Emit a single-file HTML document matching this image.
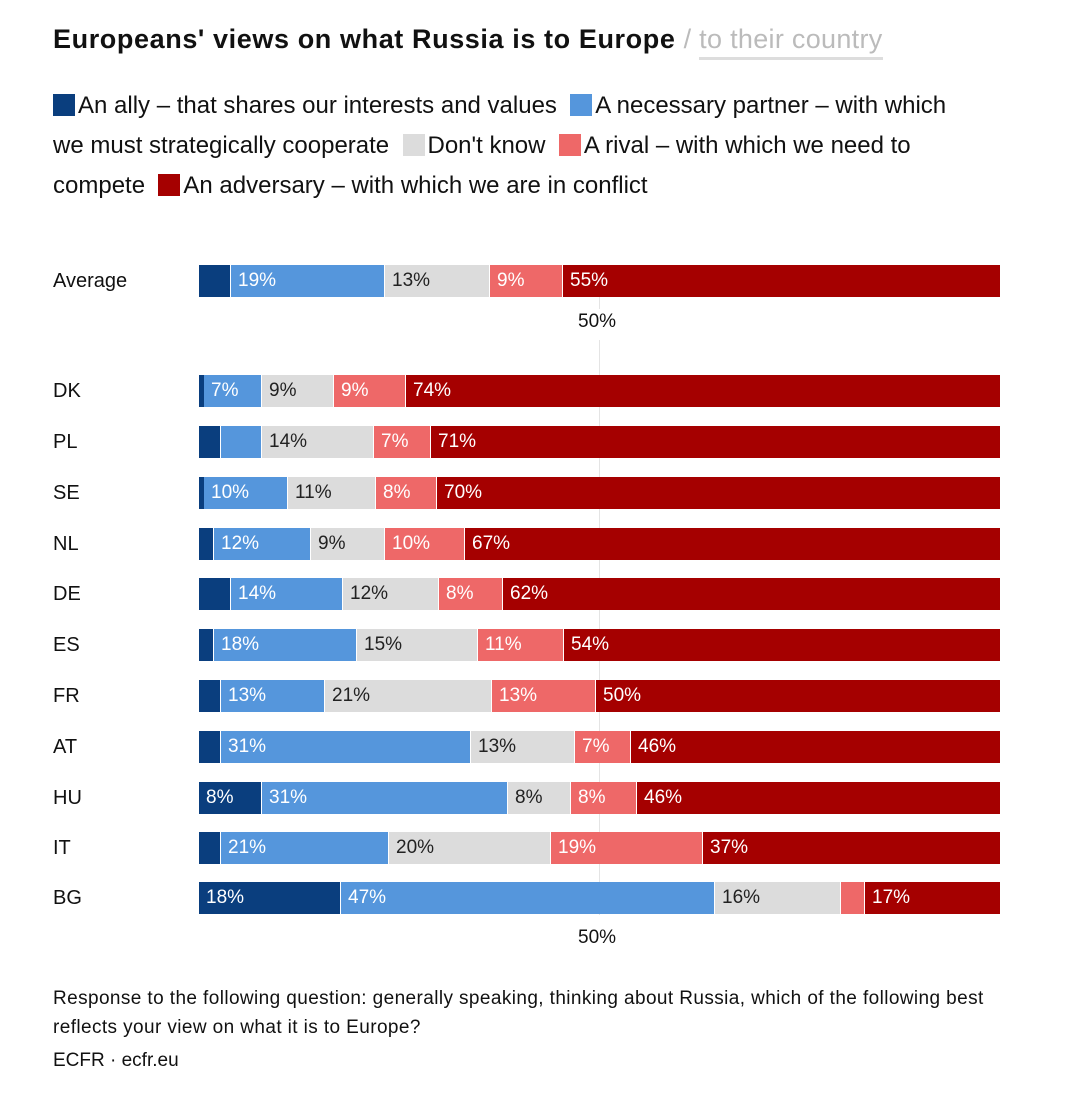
<!DOCTYPE html>
<html><head><meta charset="utf-8"><style>
body{margin:0;width:1080px;height:1105px;background:#fff;font-family:"Liberation Sans",sans-serif;color:#111;position:relative;overflow:hidden}
.a{position:absolute;white-space:nowrap}
.s{position:absolute;height:32px;line-height:32px;font-size:19px;box-sizing:border-box;padding-left:7px;color:#fff;overflow:hidden}
.c1{background:#0a3e7e}.c2{background:#5596dc}.c3{background:#dcdcdc;color:#222}.c4{background:#ee6868}.c5{background:#a50000}
.lab{position:absolute;left:53px;font-size:20px;line-height:32px}
.sq{display:inline-block;width:22px;height:22px;vertical-align:-3px;margin-right:3px}
.grid{position:absolute;left:599px;width:1px;background:#e4e4e4}
</style></head><body>
<div class="a" style="left:53px;top:24px;font-size:27px;font-weight:bold;letter-spacing:0.6px">Europeans' views on what Russia is to Europe <span style="font-weight:normal;color:#bbb;letter-spacing:0.3px">/ <span style="border-bottom:3px solid #ddd;padding-bottom:3px">to their country</span></span></div>
<div class="a" style="left:53px;top:86px;font-size:24px;line-height:40px">
<span class="sq c1"></span>An ally – that shares our interests and values &nbsp;<span class="sq c2"></span>A necessary partner – with which<br>we must strategically cooperate &nbsp;<span class="sq c3"></span>Don't know &nbsp;<span class="sq c4"></span>A rival – with which we need to<br>compete &nbsp;<span class="sq c5"></span>An adversary – with which we are in conflict</div>

<div class="grid" style="top:297px;height:12px"></div>
<div class="grid" style="top:340px;height:575px"></div>
<div class="a" style="left:578px;top:311px;font-size:19px">50%</div>
<div class="a" style="left:578px;top:927px;font-size:19px">50%</div>

<div class="lab" style="top:265px">Average</div>
<div class="s c1" style="top:265px;left:199px;width:31px"></div>
<div class="s c2" style="top:265px;left:231px;width:153px">19%</div>
<div class="s c3" style="top:265px;left:385px;width:104px">13%</div>
<div class="s c4" style="top:265px;left:490px;width:72px">9%</div>
<div class="s c5" style="top:265px;left:563px;width:437px">55%</div>

<div class="lab" style="top:375px">DK</div>
<div class="s c1" style="top:375px;left:199px;width:4px"></div>
<div class="s c2" style="top:375px;left:204px;width:57px">7%</div>
<div class="s c3" style="top:375px;left:262px;width:71px">9%</div>
<div class="s c4" style="top:375px;left:334px;width:71px">9%</div>
<div class="s c5" style="top:375px;left:406px;width:594px">74%</div>

<div class="lab" style="top:426px">PL</div>
<div class="s c1" style="top:426px;left:199px;width:21px"></div>
<div class="s c2" style="top:426px;left:221px;width:40px"></div>
<div class="s c3" style="top:426px;left:262px;width:111px">14%</div>
<div class="s c4" style="top:426px;left:374px;width:56px">7%</div>
<div class="s c5" style="top:426px;left:431px;width:569px">71%</div>

<div class="lab" style="top:477px">SE</div>
<div class="s c1" style="top:477px;left:199px;width:4px"></div>
<div class="s c2" style="top:477px;left:204px;width:83px">10%</div>
<div class="s c3" style="top:477px;left:288px;width:87px">11%</div>
<div class="s c4" style="top:477px;left:376px;width:60px">8%</div>
<div class="s c5" style="top:477px;left:437px;width:563px">70%</div>

<div class="lab" style="top:528px">NL</div>
<div class="s c1" style="top:528px;left:199px;width:14px"></div>
<div class="s c2" style="top:528px;left:214px;width:96px">12%</div>
<div class="s c3" style="top:528px;left:311px;width:73px">9%</div>
<div class="s c4" style="top:528px;left:385px;width:79px">10%</div>
<div class="s c5" style="top:528px;left:465px;width:535px">67%</div>

<div class="lab" style="top:578px">DE</div>
<div class="s c1" style="top:578px;left:199px;width:31px"></div>
<div class="s c2" style="top:578px;left:231px;width:111px">14%</div>
<div class="s c3" style="top:578px;left:343px;width:95px">12%</div>
<div class="s c4" style="top:578px;left:439px;width:63px">8%</div>
<div class="s c5" style="top:578px;left:503px;width:497px">62%</div>

<div class="lab" style="top:629px">ES</div>
<div class="s c1" style="top:629px;left:199px;width:14px"></div>
<div class="s c2" style="top:629px;left:214px;width:142px">18%</div>
<div class="s c3" style="top:629px;left:357px;width:120px">15%</div>
<div class="s c4" style="top:629px;left:478px;width:85px">11%</div>
<div class="s c5" style="top:629px;left:564px;width:436px">54%</div>

<div class="lab" style="top:680px">FR</div>
<div class="s c1" style="top:680px;left:199px;width:21px"></div>
<div class="s c2" style="top:680px;left:221px;width:103px">13%</div>
<div class="s c3" style="top:680px;left:325px;width:166px">21%</div>
<div class="s c4" style="top:680px;left:492px;width:103px">13%</div>
<div class="s c5" style="top:680px;left:596px;width:404px">50%</div>

<div class="lab" style="top:731px">AT</div>
<div class="s c1" style="top:731px;left:199px;width:21px"></div>
<div class="s c2" style="top:731px;left:221px;width:249px">31%</div>
<div class="s c3" style="top:731px;left:471px;width:103px">13%</div>
<div class="s c4" style="top:731px;left:575px;width:55px">7%</div>
<div class="s c5" style="top:731px;left:631px;width:369px">46%</div>

<div class="lab" style="top:782px">HU</div>
<div class="s c1" style="top:782px;left:199px;width:62px">8%</div>
<div class="s c2" style="top:782px;left:262px;width:245px">31%</div>
<div class="s c3" style="top:782px;left:508px;width:62px">8%</div>
<div class="s c4" style="top:782px;left:571px;width:65px">8%</div>
<div class="s c5" style="top:782px;left:637px;width:363px">46%</div>

<div class="lab" style="top:832px">IT</div>
<div class="s c1" style="top:832px;left:199px;width:21px"></div>
<div class="s c2" style="top:832px;left:221px;width:167px">21%</div>
<div class="s c3" style="top:832px;left:389px;width:161px">20%</div>
<div class="s c4" style="top:832px;left:551px;width:151px">19%</div>
<div class="s c5" style="top:832px;left:703px;width:297px">37%</div>

<div class="lab" style="top:882px">BG</div>
<div class="s c1" style="top:882px;left:199px;width:141px">18%</div>
<div class="s c2" style="top:882px;left:341px;width:373px">47%</div>
<div class="s c3" style="top:882px;left:715px;width:125px">16%</div>
<div class="s c4" style="top:882px;left:841px;width:23px"></div>
<div class="s c5" style="top:882px;left:865px;width:135px">17%</div>

<div class="a" style="left:53px;top:984px;font-size:19px;letter-spacing:0.4px;line-height:29px">Response to the following question: generally speaking, thinking about Russia, which of the following best<br>reflects your view on what it is to Europe?</div>
<div class="a" style="left:53px;top:1050px;font-size:19px">ECFR · ecfr.eu</div>
</body></html>
